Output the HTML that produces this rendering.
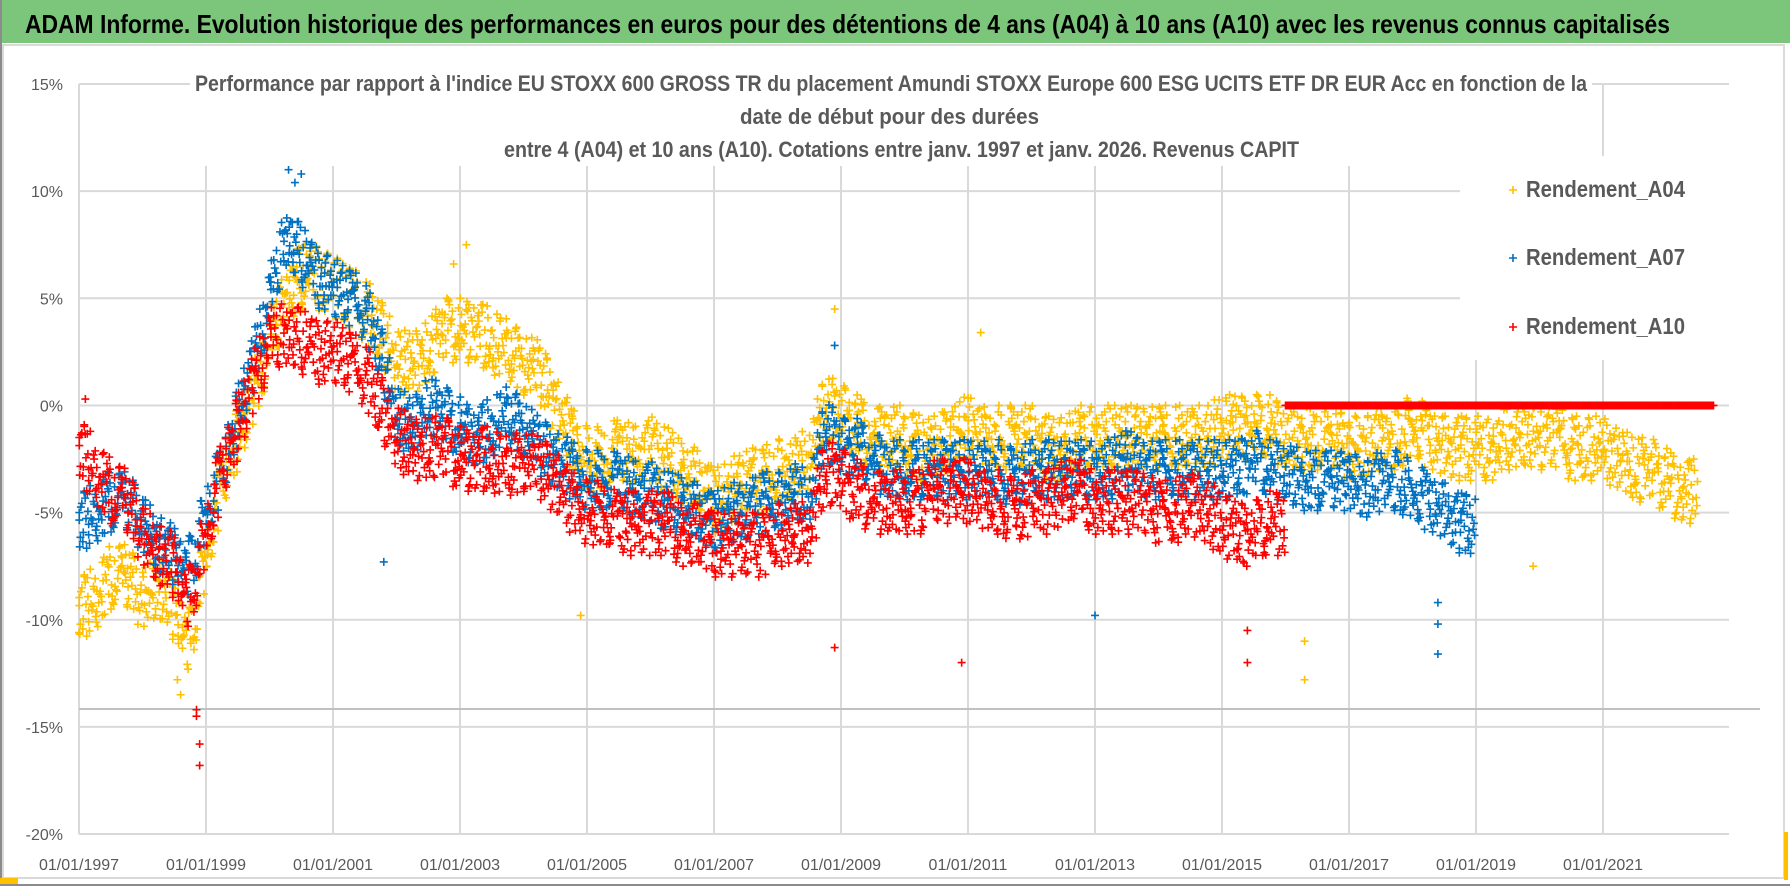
<!DOCTYPE html>
<html><head><meta charset="utf-8">
<style>
html,body{margin:0;padding:0;background:#fff;}
body{width:1790px;height:886px;overflow:hidden;position:relative;font-family:"Liberation Sans",sans-serif;}
svg{position:absolute;left:0;top:0;}
</style></head>
<body>
<svg id="chart" width="1790" height="886" viewBox="0 0 1790 886">
  <rect x="0" y="0" width="1790" height="886" fill="#ffffff"/>
  <rect x="0" y="0" width="1790" height="43" fill="#7cc67b"/>
  <text x="25" y="33" font-size="26" font-weight="bold" fill="#000" textLength="1645" lengthAdjust="spacingAndGlyphs">ADAM Informe. Evolution historique des performances en euros pour des détentions de 4 ans (A04) à 10 ans (A10) avec les revenus connus capitalisés</text>
  <rect x="3" y="45" width="1781" height="833" fill="#fff" stroke="#d9d9d9" stroke-width="2"/>
  <line x1="1" y1="0" x2="1" y2="886" stroke="#8c8c8c" stroke-width="2"/>
  <line x1="0" y1="885" x2="1790" y2="885" stroke="#8c8c8c" stroke-width="2"/>
  <rect x="0" y="878" width="18" height="6" fill="#ffc000"/>
  <rect x="1784" y="832" width="4" height="48" fill="#ffc000"/>
  <g id="grid"></g>
  <line x1="79" y1="709" x2="1760" y2="709" stroke="#c0c0c0" stroke-width="2"/>
  <g id="yaxis"></g>
  <g id="xaxis"></g>
  <g id="marks"></g>
  <rect x="190" y="68" width="1402" height="98" fill="#fff"/>
  <g fill="#595959" font-weight="bold" font-size="22">
    <text x="195" y="91" textLength="1392" lengthAdjust="spacingAndGlyphs">Performance par rapport à l'indice EU STOXX 600 GROSS TR  du placement Amundi STOXX Europe 600 ESG UCITS ETF DR EUR Acc en fonction de la</text>
    <text x="740" y="124" textLength="299" lengthAdjust="spacingAndGlyphs">date de début pour des durées</text>
    <text x="504" y="157" textLength="795" lengthAdjust="spacingAndGlyphs">entre 4 (A04) et 10 ans (A10). Cotations entre janv. 1997 et janv. 2026. Revenus CAPIT</text>
  </g>
  <rect x="1460" y="156" width="322" height="204" fill="#fff"/>
  <g font-size="23" font-weight="bold" fill="#595959">
    <g><path d="M1509 190h8M1513 186v8" stroke="#ffc000" stroke-width="1.6"/><text x="1526" y="197" textLength="159" lengthAdjust="spacingAndGlyphs">Rendement_A04</text></g>
    <g><path d="M1509 258h8M1513 254v8" stroke="#0070c0" stroke-width="1.6"/><text x="1526" y="265" textLength="159" lengthAdjust="spacingAndGlyphs">Rendement_A07</text></g>
    <g><path d="M1509 327h8M1513 323v8" stroke="#ff0000" stroke-width="1.6"/><text x="1526" y="334" textLength="159" lengthAdjust="spacingAndGlyphs">Rendement_A10</text></g>
  </g>
</svg>
<script>
const yTicks = [15, 10, 5, 0, -5, -10, -15, -20];
const yTickLabels = ["15%", "10%", "5%", "0%", "-5%", "-10%", "-15%", "-20%"];
const xTicks = [1997, 1999, 2001, 2003, 2005, 2007, 2009, 2011, 2013, 2015, 2017, 2019, 2021];
const xTickLabels = ["01/01/1997","01/01/1999","01/01/2001","01/01/2003","01/01/2005","01/01/2007","01/01/2009","01/01/2011","01/01/2013","01/01/2015","01/01/2017","01/01/2019","01/01/2021"];
const startYear = 1997;
const quarterStep = 0.25;
const a04Values = [-9.5,-9,-8,-8, -9,-8.5,-9.5,-11, -7,-3.5,-1.5,0.5, 3,5,6,6, 5.5,5,4.5,3.5, 2,2,2.5,3.5, 3.5,3.5,3,2.5, 2,1.5,0,-1.5, -2.5,-2.5,-2,-2.5, -2,-2.5,-3,-3.5, -4.5,-4,-3.5,-3.5, -3,-3,-2.5,0, -0.5,-1,-1.5,-1.5, -1.5,-2,-2,-1.5, -1,-1.5,-1.5,-1.5, -1.5,-2,-2,-1.5, -1.5,-1.5,-1.5,-1.5, -1.5,-1.5,-1.5,-1.5, -1,-1,-1,-1, -1.5,-1.5,-1.5,-1.5, -2,-2,-1.5,-1.5, -1,-1.5,-2,-2, -2,-2,-1.5,-1.5, -1.5,-1.5,-2,-2, -2,-2.5,-3,-3, -3.5,-4];
const a07Values = [-5.5,-5,-4.5,-4.5, -5.5,-6.5,-7,-7.5, -5,-3,-0.5,2, 5,8,7,6, 5.5,5,4.5,2.5, -0.5,-1,0,-0.5, -1,-1.5,-1,-0.5, -1,-2,-2.5,-3, -3.5,-3.5,-3.5,-4, -4,-4.5,-4.5,-5, -5.5,-5,-5,-4.5, -4.5,-4,-4.5,-1, -2,-2,-2.5,-3, -3,-3,-3,-3, -3,-3,-3,-3.5, -3,-3,-3,-3, -3,-3,-2.5,-3, -3,-3,-3,-3, -3,-3,-2.5,-3, -3,-3.5,-3.5,-3.5, -3.5,-4,-3.5,-3.5, -4,-4.5,-5,-5.5];
const a10Values = [-2,-3,-4,-4.5, -6,-7,-7.5,-9, -6,-3,-1,1, 3,3.5,3,2.5, 2.5,2,1.5,0, -1.5,-2,-2,-2, -2.5,-2.5,-2.5,-3, -2.5,-3,-3.5,-4.5, -5,-5,-5.5,-5.5, -5.5,-5.5,-6,-6, -6.5,-6.5,-6.5,-6.5, -6,-6,-6,-3, -3.5,-4,-4.5,-4.5, -4.5,-4.5,-4,-4, -4,-4.5,-4.5,-5, -4.5,-4.5,-4,-4, -4.5,-4.5,-4.5,-4.5, -5,-5,-4.5,-5, -5.5,-6,-6,-5.5];
const a10FlatRange = [2016.0, 2022.75];
const a10FlatValue = 0;
const a04Outliers = [[1998.6,-13.5],[1998.55,-12.8],[2004.9,-9.8],[2016.3,-12.8],[2016.3,-11],[2019.9,-7.5],[2003.1,7.5],[2002.9,6.6],[2008.9,4.5],[2011.2,3.4],[1997.0,-10.6]];
const a07Outliers = [[2000.3,11],[2000.5,10.8],[2000.4,10.4],[2018.4,-11.6],[2018.4,-10.2],[2018.4,-9.2],[2013,-9.8],[2001.8,-7.3],[2008.9,2.8]];
const a10Outliers = [[1998.9,-16.8],[1998.9,-15.8],[1998.85,-14.5],[1998.85,-14.2],[2008.9,-11.3],[2010.9,-12],[2015.4,-12],[2015.4,-10.5],[1997.1,0.3]];

const X0 = 79, PX_PER_YEAR = 63.5, Y0 = 84, PX_PER_PCT = 21.43;
function xs(t){ return X0 + (t - startYear) * PX_PER_YEAR; }
function ys(v){ return Y0 + (15 - v) * PX_PER_PCT; }
const NS = "http://www.w3.org/2000/svg";
const grid = document.getElementById('grid');
const yaxis = document.getElementById('yaxis');
const xaxis = document.getElementById('xaxis');
const marks = document.getElementById('marks');

yTicks.forEach((v,i)=>{
  const l = document.createElementNS(NS,'line');
  l.setAttribute('x1', X0); l.setAttribute('x2', i===0 ? 1729 : (ys(v) < 360 ? 1460 : 1729));
  l.setAttribute('y1', ys(v)); l.setAttribute('y2', ys(v));
  l.setAttribute('stroke', '#d9d9d9'); l.setAttribute('stroke-width', '2');
  
  
  grid.appendChild(l);
  const t = document.createElementNS(NS,'text');
  t.setAttribute('x', 63); t.setAttribute('y', ys(v) + 6);
  t.setAttribute('text-anchor', 'end'); t.setAttribute('font-size', '16'); t.setAttribute('fill', '#595959');
  t.textContent = yTickLabels[i];
  
  
  yaxis.appendChild(t);
});
xTicks.forEach((yr,i)=>{
  const l = document.createElementNS(NS,'line');
  l.setAttribute('x1', xs(yr)); l.setAttribute('x2', xs(yr));
  l.setAttribute('y1', ys(15)); l.setAttribute('y2', ys(-20));
  l.setAttribute('stroke', '#d9d9d9'); l.setAttribute('stroke-width', '2');
  
  
  grid.appendChild(l);
  const t = document.createElementNS(NS,'text');
  t.setAttribute('x', xs(yr)); t.setAttribute('y', 870);
  t.setAttribute('text-anchor', 'middle'); t.setAttribute('font-size', '16'); t.setAttribute('fill', '#595959');
  t.textContent = xTickLabels[i];
  
  
  xaxis.appendChild(t);
});
const vaxis = document.createElementNS(NS,'line');
vaxis.setAttribute('x1', X0); vaxis.setAttribute('x2', X0); vaxis.setAttribute('y1', ys(15)); vaxis.setAttribute('y2', ys(-20));
vaxis.setAttribute('stroke', '#d9d9d9'); vaxis.setAttribute('stroke-width', '2');
grid.appendChild(vaxis);

const jitterV = [0.1,-0.6,0.9,-0.2,0.5,-1,0.3,-0.4,1,-0.8,0.2,0.7,-0.3,0.6,-0.9,0,0.4,-0.5,0.8,-0.1,-0.7,0.35,-0.25,0.95,-0.45,0.15,-0.85,0.65,-0.05];
const jitterT = [0.02,0.61,0.33,0.87,0.12,0.48,0.95,0.27,0.71,0.05,0.56,0.39,0.82,0.18,0.66,0.44,0.91,0.09,0.52,0.76,0.24];
const PER_QUARTER = 24;
function plus(x, y, color, name){
  const p = document.createElementNS(NS,'path');
  p.setAttribute('d', 'M'+(x-4)+' '+y+'h8M'+x+' '+(y-4)+'v8');
  p.setAttribute('stroke', color); p.setAttribute('stroke-width', '1.6');
  
  
  marks.appendChild(p);
}
function drawSeries(values, outliers, color, spread, name){
  let c = 0;
  values.forEach((v,i)=>{
    const t0 = startYear + i * quarterStep;
    const next = i+1 < values.length ? values[i+1] : v;
    for (let k = 0; k < PER_QUARTER; k++, c++) {
      const f = jitterT[c % jitterT.length];
      const base = v + (next - v) * f;
      plus(xs(t0 + f * quarterStep), ys(base + jitterV[c % jitterV.length] * spread), color, name);
    }
  });
  outliers.forEach(o=>plus(xs(o[0]), ys(o[1]), color, name));
}
drawSeries(a04Values, a04Outliers, '#ffc000', 1.5, 'point-a04');
drawSeries(a07Values, a07Outliers, '#0070c0', 1.4, 'point-a07');
drawSeries(a10Values, a10Outliers, '#ff0000', 1.5, 'point-a10');
for (let t = a10FlatRange[0]; t <= a10FlatRange[1]; t += 0.02) {
  plus(xs(t), ys(a10FlatValue), '#ff0000', 'point-a10-flat');
}
</script>
</body></html>
